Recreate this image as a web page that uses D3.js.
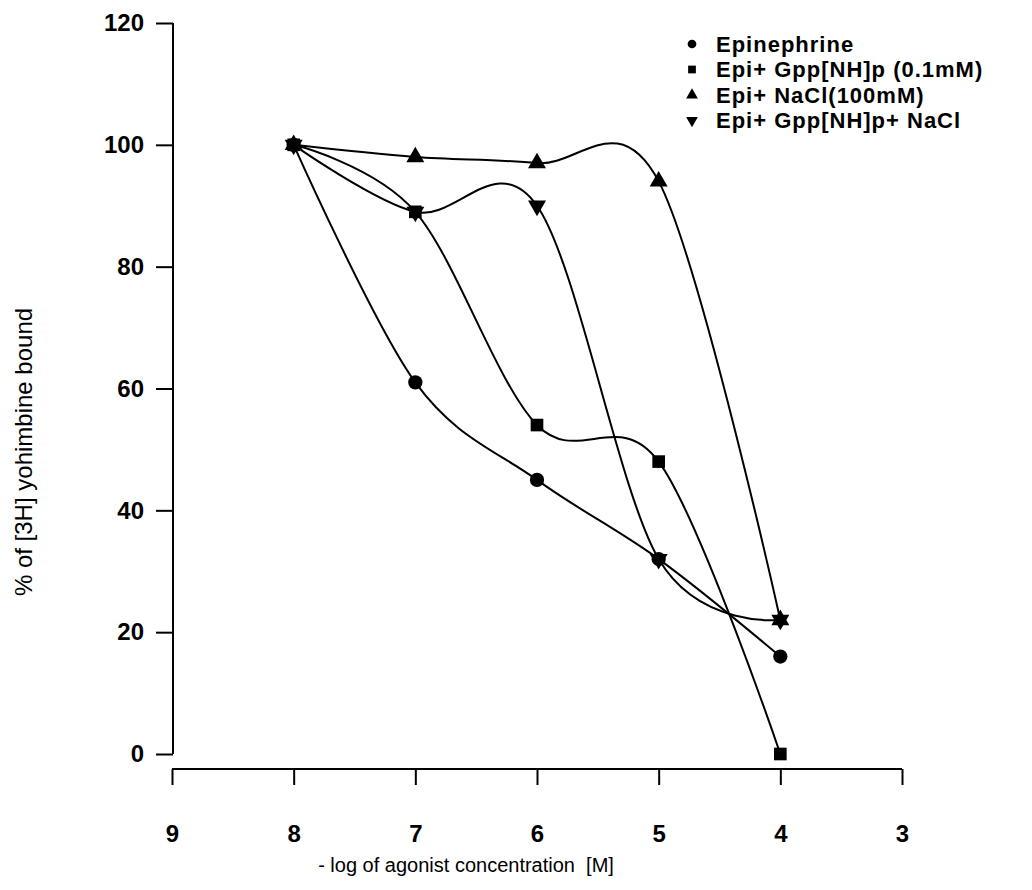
<!DOCTYPE html>
<html>
<head>
<meta charset="utf-8">
<script src="https://cdn.jsdelivr.net/npm/d3@7"></script>
<style>
  body { margin: 0; background: #fff; }
  text { font-family: "Liberation Sans", Arial, sans-serif; fill: #000; }
</style>
</head>
<body>
<svg id="chart"></svg>
<script>
// data
var conc = [8, 7, 6, 5, 4]
var epinephrine = [100, 61, 45, 32, 16]
var epiGpp = [100, 89, 54, 48, 0]
var epiNaCl = [100, 98, 97, 94, 22]
var epiGppNaCl = [100, 89, 90, 32, 22]
var seriesNames = ['Epinephrine', 'Epi+ Gpp[NH]p (0.1mM)', 'Epi+ NaCl(100mM)', 'Epi+ Gpp[NH]p+ NaCl']
var xTicks = [9, 8, 7, 6, 5, 4, 3]
var yTicks = [0, 20, 40, 60, 80, 100, 120]

var width = 1032
var height = 890
var svg = d3.select('#chart').attr('width', width).attr('height', height)

var x = d3.scaleLinear().domain([9, 3]).range([172, 902])
var y = d3.scaleLinear().domain([0, 120]).range([754, 23])

// y axis
var yAxis = d3.axisLeft(y).tickValues(yTicks).tickSize(17).tickPadding(12)
var gy = svg.append('g').attr('transform', 'translate(173,0)').call(yAxis)
// x axis sits a bit below the y axis end
var xAxis = d3.axisBottom(x).tickValues(xTicks).tickFormat(d3.format('d'))
  .tickSize(16).tickPadding(40)
var gx = svg.append('g').attr('transform', 'translate(0,769)').call(xAxis)

svg.selectAll('.domain').attr('stroke', '#000').attr('stroke-width', 2)
  .attr('d', function () {
    return this.parentNode === gy.node() ? 'M0,23V754' : 'M172,0H902'
  })
svg.selectAll('.tick line').attr('stroke', '#000').attr('stroke-width', 2)
svg.selectAll('.tick text').attr('font-size', '24px').attr('fill', '#000')
  .attr('font-weight', 'bold')
  .style('font-family', '"Liberation Sans", Arial, sans-serif')

svg.append('text')
  .attr('transform', 'translate(32,452) rotate(-90)')
  .attr('text-anchor', 'middle')
  .attr('font-size', '24px')
  .text('% of [3H] yohimbine bound')

svg.append('text')
  .attr('x', 466).attr('y', 872)
  .attr('text-anchor', 'middle')
  .attr('font-size', '20px')
  .style('white-space', 'pre')
  .text('- log of agonist concentration  [M]')

var all = [epinephrine, epiGpp, epiNaCl, epiGppNaCl]
var line = d3.line()
  .x(function (d, i) { return x(conc[i]) })
  .y(function (d) { return y(d) })
  .curve(d3.curveCardinal.tension(0))

svg.selectAll('path.series').data(all).enter().append('path')
  .attr('class', 'series')
  .attr('fill', 'none')
  .attr('stroke', '#000')
  .attr('stroke-width', 2)
  .attr('d', line)

var shapes = [
  d3.symbol().type(d3.symbolCircle).size(160),
  d3.symbol().type(d3.symbolSquare).size(160),
  d3.symbol().type(d3.symbolTriangle).size(140),
  d3.symbol().type(d3.symbolTriangle).size(140)
]
var rot = [0, 0, 0, 180]

all.forEach(function (vals, s) {
  svg.selectAll('path.m' + s).data(vals).enter().append('path')
    .attr('class', 'm' + s)
    .attr('fill', '#000')
    .attr('d', shapes[s])
    .attr('transform', function (d, i) {
      return 'translate(' + x(conc[i]) + ',' + y(d) + ') rotate(' + rot[s] + ')'
    })
})

// legend
var legendSize = [
  d3.symbol().type(d3.symbolCircle).size(60),
  d3.symbol().type(d3.symbolSquare).size(60),
  d3.symbol().type(d3.symbolTriangle).size(60),
  d3.symbol().type(d3.symbolTriangle).size(60)
]
var legend = svg.selectAll('g.legend').data(seriesNames).enter().append('g')
  .attr('class', 'legend')
  .attr('transform', function (d, i) { return 'translate(692,' + (44 + i * 25.5) + ')' })
legend.append('path')
  .attr('fill', '#000')
  .attr('d', function (d, i) { return legendSize[i]() })
  .attr('transform', function (d, i) { return 'rotate(' + rot[i] + ')' })
legend.append('text')
  .attr('x', 24).attr('dy', '0.35em')
  .attr('font-size', '22px')
  .attr('font-weight', 'bold')
  .attr('letter-spacing', '1px')
  .text(function (d) { return d })
</script>
</body>
</html>
